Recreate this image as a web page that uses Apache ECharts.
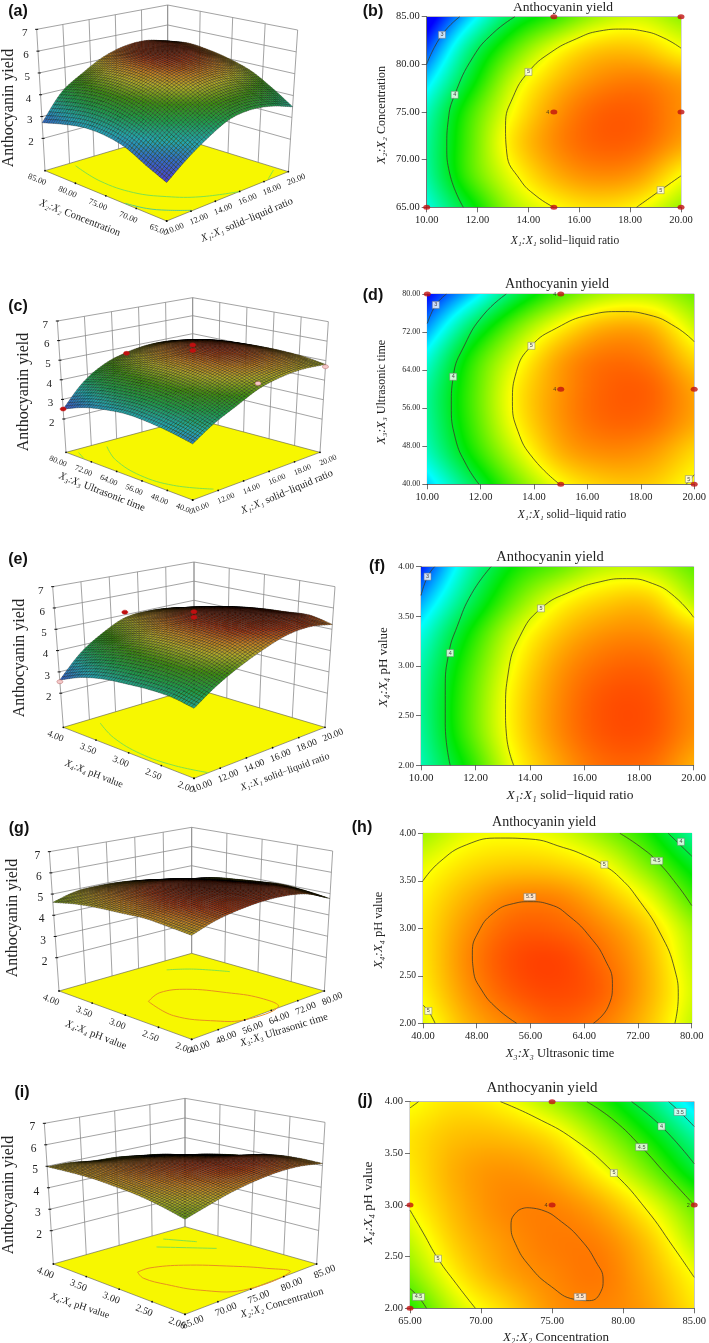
<!DOCTYPE html>
<html><head><meta charset="utf-8">
<style>html,body{margin:0;padding:0;background:#fff}#c{width:709px;height:1343px}</style>
<script src="https://cdn.jsdelivr.net/npm/echarts@6/dist/echarts.min.js"></script>
</head><body><div id="c"></div>
<script>
// ---------- contour-plot response values (rows: y axis low to high, columns: x axis low to high)
const heatB=[[3.45,4.10,4.72,5.00,5.12,5.02,4.68],[3.65,4.42,4.95,5.30,5.45,5.38,5.02],[3.68,4.45,5.09,5.45,5.62,5.60,5.37],[3.57,4.37,4.98,5.39,5.61,5.63,5.45],[3.22,4.07,4.80,5.22,5.45,5.51,5.38],[2.75,3.75,4.45,4.93,5.20,5.22,5.00],[2.30,3.20,3.95,4.35,4.72,4.85,4.65]];
const heatD=[[3.20,3.90,4.55,5.00,5.20,5.20,4.97],[3.55,4.25,4.85,5.30,5.45,5.40,5.15],[3.68,4.40,5.03,5.42,5.60,5.58,5.35],[3.68,4.42,5.05,5.42,5.62,5.62,5.35],[3.45,4.30,4.90,5.35,5.55,5.50,5.15],[3.00,3.87,4.55,5.02,5.30,5.28,4.85],[2.50,3.20,3.95,4.45,4.75,4.78,4.55]];
const heatF=[[3.60,4.25,4.95,5.35,5.58,5.58,5.32],[3.68,4.42,5.05,5.45,5.67,5.68,5.45],[3.70,4.43,5.05,5.45,5.67,5.68,5.45],[3.62,4.35,4.97,5.38,5.58,5.60,5.38],[3.42,4.17,4.82,5.22,5.42,5.44,5.22],[3.05,3.83,4.50,4.95,5.17,5.20,4.78],[2.60,3.55,4.20,4.50,4.78,4.78,4.50]];
const heatH=[[4.92,5.30,5.50,5.62,5.52,5.25,4.82],[5.05,5.42,5.65,5.72,5.62,5.32,4.88],[5.10,5.47,5.70,5.74,5.58,5.30,4.82],[5.10,5.42,5.62,5.62,5.47,5.20,4.72],[5.05,5.30,5.47,5.47,5.27,4.95,4.42],[4.93,5.12,5.20,5.17,5.00,4.60,4.10],[4.70,4.93,4.97,4.90,4.65,4.28,3.70]];
const heatJ=[[4.30,4.85,5.15,5.42,5.48,5.38,5.10],[4.62,5.08,5.35,5.48,5.53,5.32,4.98],[4.83,5.22,5.42,5.52,5.48,5.22,4.75],[5.00,5.30,5.47,5.48,5.32,4.98,4.50],[5.08,5.33,5.42,5.32,5.02,4.60,4.05],[5.10,5.25,5.25,5.10,4.72,4.25,3.68],[4.98,5.10,5.00,4.72,4.35,3.85,3.20]];
// ---------- contour lines
const contoursB=[[[10,80.03],[10.6,83.1],[11.3,85]],[[13.47,85],[12.6,83.25],[11.83,80.8],[11.1,76.8],[10.85,74.2],[10.79,71.4],[10.9,68.6],[11.44,65]],[[20,81.7],[19.3,82.8],[18.5,83.5],[17.7,83.7],[16.8,83.5],[15.9,82.7],[14.85,81.2],[14,79.2],[13.4,76.6],[13.1,73.6],[13.15,70.7],[13.67,67.9],[14.3,66.2],[15,65]],[[18.25,65],[19.2,66.8],[20,68.3]]];
const contoursD=[[[10,73.8],[10.32,77.7],[10.72,80]],[[12.96,80],[12.1,75.6],[11.4,69.3],[10.97,62.6],[10.9,56.7],[11.05,49.7],[11.47,44],[11.94,40]],[[20,70],[19.3,73.1],[18.3,75.6],[17.26,76.3],[16.08,75.6],[14.83,72.8],[13.9,69.1],[13.34,63.7],[13.19,57.4],[13.4,51.1],[13.96,45.5],[14.96,40]],[[19.7,40],[20,42]]];
const contoursF=[[[10,3.71],[10.24,3.9],[10.5,4]],[[12.57,4],[11.86,3.73],[11.33,3.4],[11.02,3.13],[10.89,2.76],[10.89,2.42],[11.07,2]],[[20,3.49],[19.3,3.7],[18.5,3.83],[17.54,3.88],[16.6,3.85],[15.5,3.75],[14.4,3.58],[13.63,3.3],[13.2,2.93],[13.1,2.56],[13.14,2.29],[13.4,2]]];
const contoursH=[[[76.5,4],[80,3.76]],[[69.3,4],[72.3,3.86],[74.8,3.71],[77.8,3.46],[80,3.24]],[[40,3.5],[42.5,3.7],[46.5,3.88],[51.5,3.95],[55.9,3.94],[60.9,3.85],[64,3.77],[67,3.66],[69.5,3.52],[71.8,3.33],[75.3,2.95],[77.5,2.56],[78,2.28],[77.5,2]],[[53.95,2],[50.97,2.16],[48.73,2.35],[47.5,2.56],[47.35,2.74],[48.24,2.96],[50.47,3.16],[53.45,3.26],[55.93,3.28],[58.9,3.25],[61.9,3.12],[64.86,2.91],[67.1,2.67],[68.2,2.42],[67.6,2.18],[65.36,2]],[[40,2.19],[40.8,2.13],[41.8,2]]];
const contoursJ=[[[83.2,4],[84,3.9],[85,3.76]],[[80.6,4],[82.7,3.76],[85,3.4]],[[77.45,4],[79.35,3.82],[81.3,3.56],[83,3.3],[85,3]],[[71.37,4],[73.8,3.85],[76.6,3.63],[79.35,3.31],[81.67,2.95],[83.5,2.6],[85,2.3]],[[65,2.95],[65.93,2.73],[66.97,2.48],[68.24,2.24],[69.6,2]],[[65.6,4],[65,3.94]],[[65,2.19],[65.6,2.11],[66.16,2]],[[73.22,2.974],[72.52,2.935],[72.11,2.806],[72.41,2.629],[73.45,2.403],[74.95,2.21],[76.57,2.087],[77.62,2.074],[78.43,2.161],[78.59,2.274],[78.08,2.452],[77.04,2.661],[75.65,2.839],[74.26,2.952],[73.22,2.974]]];
// ---------- contour labels
const labelsB=[[10.6,83.1,'3'],[11.1,76.8,'4'],[14,79.2,'5'],[19.2,66.8,'5']];
const labelsD=[[10.32,77.7,'3'],[10.97,62.6,'4'],[13.9,69.1,'5'],[19.8,41.1,'5']];
const labelsF=[[10.24,3.9,'3'],[11.07,3.13,'4'],[14.4,3.58,'5']];
const labelsH=[[78.4,3.91,'4'],[74.8,3.71,'4.5'],[67,3.67,'5'],[55.9,3.33,'5.5'],[40.8,2.13,'5']];
const labelsJ=[[84,3.9,'3.5'],[82.7,3.76,'4'],[81.3,3.56,'4.5'],[79.35,3.31,'5'],[66.97,2.48,'5'],[65.6,2.11,'4.5'],[76.97,2.11,'5.5']];
// ---------- design points
const pointsB=[[10,65],[15,65],[20,65],[15,75],[20,75],[15,85],[20,85]];
const pointsD=[[10,80],[15,80],[15,60],[20,60],[15,40],[20,40]];
const pointsJ=[[75,4],[65,3],[75,3],[85,3],[65,2]];
// ---------- surfaces (rows: left-edge axis low to high, columns: right-edge axis low to high)
const surfA=[[2.15,2.85,3.45,3.92,4.02,3.85,3.49],[2.55,3.35,4.00,4.51,4.62,4.45,4.10],[3.00,3.85,4.55,5.04,5.15,5.00,4.65],[3.20,4.15,4.85,5.34,5.45,5.33,4.98],[3.20,4.25,4.95,5.45,5.58,5.50,5.20],[3.00,4.15,4.85,5.34,5.52,5.52,5.32],[2.72,3.90,4.55,5.10,5.40,5.45,5.20]];
const surfC=[[2.95,3.60,4.10,4.60,4.85,4.92,4.81],[3.15,3.90,4.50,4.98,5.20,5.18,4.98],[3.28,4.10,4.75,5.22,5.42,5.35,5.05],[3.33,4.18,4.85,5.32,5.52,5.42,5.05],[3.20,4.10,4.80,5.25,5.45,5.35,5.00],[2.95,3.95,4.62,5.05,5.25,5.15,4.90],[2.51,3.65,4.35,4.71,4.88,4.85,4.63]];
const surfE=[[3.44,4.10,4.62,5.05,5.38,5.45,5.23],[3.60,4.35,4.95,5.38,5.60,5.62,5.45],[3.60,4.45,5.05,5.48,5.68,5.65,5.38],[3.51,4.42,5.05,5.48,5.65,5.58,5.30],[3.38,4.28,4.92,5.35,5.50,5.40,5.15],[3.10,4.02,4.65,5.10,5.25,5.15,4.90],[2.62,3.65,4.35,4.86,4.95,4.85,4.63]];
const surfG=[[4.97,5.30,5.48,5.56,5.52,5.30,4.77],[5.05,5.40,5.60,5.68,5.60,5.38,4.90],[5.12,5.45,5.65,5.70,5.60,5.32,4.98],[5.05,5.38,5.58,5.62,5.48,5.18,4.90],[4.98,5.28,5.45,5.48,5.30,5.02,4.78],[4.85,5.12,5.22,5.20,5.05,4.82,4.63],[4.61,4.90,4.95,4.90,4.75,4.55,4.29]];
const surfI=[[4.55,4.82,5.08,5.25,5.34,5.30,5.10],[4.78,5.05,5.30,5.45,5.50,5.40,5.12],[4.95,5.20,5.42,5.52,5.50,5.35,5.05],[5.03,5.28,5.42,5.45,5.32,5.08,4.79],[5.08,5.25,5.32,5.28,5.10,4.85,4.62],[5.05,5.15,5.12,5.02,4.85,4.62,4.40],[4.98,4.95,4.80,4.74,4.58,4.40,4.10]];
// ---------- lines printed on the floor (fractions along right edge, left edge)
const floorA=[{c:'#7fe24a',p:[[.2,.95],[.136,.684],[.156,.43],[.253,.253],[.387,.113],[.595,0]]},{c:'#7fe24a',p:[[.845,.01],[.965,.088]]},{c:'#55cc88',p:[[.005,.348],[.044,.209],[.11,.11],[.21,.007]]}];
const floorC=[{c:'#7fe24a',p:[[.055,.955],[.007,.867]]},{c:'#7fe24a',p:[[.256,.933],[.132,.742],[.055,.47],[.08,.233],[.197,.034]]}];
const floorE=[{c:'#7fe24a',p:[[.206,.924],[.1,.716],[.039,.451],[.05,.21],[.11,.001]]}];
const floorG=[{c:'#e89020',p:[[.244,.57],[.39,.63],[.533,.57],[.642,.378],[.70,.184],[.665,.012],[.407,0],[.287,.099],[.183,.32],[.244,.57]]},{c:'#7fe24a',p:[[.692,.88],[.803,.79],[.906,.618]]}];
const floorI=[{c:'#e89020',p:[[.26,.62],[.357,.623],[.517,.53],[.69,.323],[.784,.163],[.823,.025],[.463,.02],[.305,.19],[.238,.378],[.216,.532],[.26,.62]]},{c:'#7fe24a',p:[[.63,.846],[.84,.6]]},{c:'#7fe24a',p:[[.755,.92],[.85,.76]]}];
// ---------- points floating in the 3D views: right axis, left axis, yield, colour
const pts3C=[[20,60,3.07,'#f4c8c8'],[20,40,4.69,'#f4c8c8'],[10,80,2.51,'#c01010'],[15,80,4.66,'#c01010'],[15,60,5.96,'#c01010'],[15,60,5.68,'#c01010']];
const pts3E=[[10,4,2.54,'#f4c8c8'],[15,4,5.13,'#c01010'],[15,3,6.0,'#c01010'],[15,3,5.73,'#c01010']];
// ---------- tick labels
const ticksX1=[10,12,14,16,18,20];
const ticksX2=[65,70,75,80,85];
const ticksX3=[40,48,56,64,72,80];
const ticksX4=[2,2.5,3,3.5,4];
const ticksZ=[2,3,4,5,6,7];

const SERIF='"Liberation Serif","Times New Roman",serif';
const HEAT=[[2.5,[0,0,255]],[3.35,[0,255,255]],[4.2,[0,232,0]],[5.0,[255,255,0]],[5.85,[255,40,0]]];
const SURF=[[2.1,[80,60,210]],[2.8,[50,110,200]],[3.3,[35,165,175]],[3.9,[30,155,70]],[4.4,[60,140,15]],[4.9,[175,170,40]],[5.2,[195,130,35]],[5.5,[165,55,20]],[5.85,[70,15,5]]];
function ramp(st,v){
  if(v<=st[0][0])return st[0][1];
  for(let i=1;i<st.length;i++){ if(v<=st[i][0]){const t=(v-st[i-1][0])/(st[i][0]-st[i-1][0]);
    return st[i-1][1].map((c,k)=>c+(st[i][1][k]-c)*t);} }
  return st[st.length-1][1];
}
function cr(a,b,c,d,t){return .5*(2*b+(c-a)*t+(2*a-5*b+4*c-d)*t*t+(3*b-a-3*c+d)*t*t*t);}
function at1(a,i){const n=a.length;if(i<0)return 2*a[0]-a[1];if(i>=n)return 2*a[n-1]-a[n-2];return a[i];}
function line1(a,f){const n=a.length-1;let p=f*n,i=Math.min(Math.floor(p),n-1);return cr(at1(a,i-1),a[i],a[i+1],at1(a,i+2),p-i);}
function sample(m,u,v){const col=m.map(r=>line1(r,u));return line1(col,v);}
function heatCanvas(m){
  const W=300,H=210,cv=document.createElement('canvas');cv.width=W;cv.height=H;
  const ctx=cv.getContext('2d'),img=ctx.createImageData(W,H);
  for(let y=0;y<H;y++)for(let x=0;x<W;x++){
    const c=ramp(HEAT,sample(m,x/(W-1),1-y/(H-1))),k=(y*W+x)*4;
    img.data[k]=c[0];img.data[k+1]=c[1];img.data[k+2]=c[2];img.data[k+3]=255;}
  ctx.putImageData(img,0,0);return cv;
}
function rich(sym,rest,size){return {text:'{i|'+sym+'}{r| '+rest+'}',rich:{
  i:{fontFamily:SERIF,fontStyle:'italic',fontSize:size,fill:'#222'},
  r:{fontFamily:SERIF,fontSize:size,fill:'#222'}},align:'center',verticalAlign:'middle'};}
const NAMES={x1:['X₁:X₁','solid−liquid ratio'],x2:['X₂:X₂','Concentration'],x3:['X₃:X₃','Ultrasonic time'],x4:['X₄:X₄','pH value']};

// ---------- panels
const PANELS2D=[
 {heat:heatB,con:contoursB,lab:labelsB,pts:pointsB,notes:[[15,75,'4','left']],box:[426.7,16.7,681,207.3],xr:[10,20,2],yr:[65,85,5],fx:10.5,fy:10.5,xn:'x1',yn:'x2',xp:[565,241,11.5],yp:[382,115,12],t:[563,7.5,13.5]},
 {heat:heatD,con:contoursD,lab:labelsD,pts:pointsD,notes:[[15,60,'4','left'],[15,80,'4','left']],box:[427.3,294,695,484.3],xr:[10,20,2],yr:[40,80,8],fx:10.5,fy:8,xn:'x1',yn:'x3',xp:[572,515,11.5],yp:[382,392,12],t:[557,284,14]},
 {heat:heatF,con:contoursF,lab:labelsF,pts:[],notes:[],box:[421,566.7,702.7,765.3],xr:[10,20,2],yr:[2,4,.5],fx:11,fy:9,xn:'x1',yn:'x4',xp:[570,795,13.5],yp:[384,667,13],t:[550,557,14.5]},
 {heat:heatH,con:contoursH,lab:labelsH,pts:[],notes:[],box:[423,833.3,691.7,1023.3],xr:[40,80,8],yr:[2,4,.5],fx:10.5,fy:9.5,xn:'x3',yn:'x4',xp:[560,1054,12.5],yp:[379,930,12.5],t:[544,822,14]},
 {heat:heatJ,con:contoursJ,lab:labelsJ,pts:pointsJ,notes:[[75,3,'4','left'],[85,3,'2','left']],box:[410,1101.7,698,1308.3],xr:[65,85,5],yr:[2,4,.5],fx:10.5,fy:10.5,xn:'x2',yn:'x4',xp:[556,1338,13],yp:[368,1203,13.5],t:[542,1088,15]}
];
const PANELS3D=[
 {surf:surfA,yo:0,z0:.52,L:[135,512],F:[500,663],R:[865,515],B:[503,403],LT:[110,88],RT:[893,90],BT:[503,15],ut:ticksX1,vt:ticksX2,floor:floorA,pts:[],lf:8.5,zf:11,un:'x1',vn:'x2',up:[247,220,10.5,.40],vp:[80,218,10.5,-.37],zn:[9,108,16]},
 {surf:surfC,yo:265,z0:.30,L:[198,562],F:[578,705],R:[960,562],B:[578,460],LT:[172,168],RT:[985,170],BT:[578,98],ut:ticksX1,vt:ticksX3,floor:floorC,pts:pts3C,lf:8,zf:11,un:'x1',vn:'x3',up:[287,492,10.5,.40],vp:[102,492,10.5,-.37],zn:[24,392,16]},
 {surf:surfE,yo:530,z0:.40,L:[190,592],F:[582,745],R:[975,592],B:[582,475],LT:[158,170],RT:[1005,170],BT:[582,96],ut:ticksX1,vt:ticksX4,floor:floorE,pts:pts3E,lf:9.5,zf:11,un:'x1',vn:'x4',up:[285,772,10,.35],vp:[94,774,10,-.37],zn:[20,658,16]},
 {surf:surfG,yo:800,z0:.43,L:[177,573],F:[575,718],R:[973,573],B:[575,460],LT:[148,155],RT:[998,153],BT:[575,82],ut:ticksX3,vt:ticksX4,floor:floorG,pts:[],lf:9.5,zf:11.5,un:'x3',vn:'x4',up:[284,1030,10.5,.30],vp:[96,1035,10.5,-.37],zn:[13,918,16]},
 {surf:surfI,yo:1070,z0:.45,L:[160,582],F:[555,733],R:[950,582],B:[555,470],LT:[133,160],RT:[975,157],BT:[555,85],ut:ticksX2,vt:ticksX4,floor:floorI,pts:[],lf:10,zf:11.5,un:'x2',vn:'x4',up:[282,1303,10.5,.28],vp:[80,1306,10,-.33],zn:[9,1195,16]}
];
const LETTERS=[['(a)',18,12],['(b)',373,12],['(c)',18,307],['(d)',373,296],['(e)',18,560],['(f)',377,567],['(g)',19,829],['(h)',362,828],['(i)',22,1093],['(j)',365,1101]];

const grid=[],xAxis=[],yAxis=[],series=[],gfx=[];
function text(t,x,y,size,rot){return {type:'text',x,y,rotation:rot||0,silent:true,style:{text:t,fontFamily:SERIF,fontSize:size,fill:'#222',align:'center',verticalAlign:'middle'}};}
function richText(n,p,rot){return {type:'text',x:p[0],y:p[1],rotation:rot,silent:true,style:rich(NAMES[n][0],NAMES[n][1],p[2])};}

PANELS2D.forEach((p,i)=>{
  const b=p.box;
  grid.push({left:b[0],top:b[1],width:b[2]-b[0],height:b[3]-b[1],show:true,borderColor:'#777',borderWidth:.6,backgroundColor:'transparent'});
  const ax=(r,fs)=>({type:'value',gridIndex:i,min:r[0],max:r[1],interval:r[2],splitLine:{show:false},
    axisLine:{show:true,onZero:false,lineStyle:{color:'#555',width:.7}},axisTick:{show:true,length:5,lineStyle:{color:'#333',width:.7}},
    axisLabel:{fontFamily:SERIF,fontSize:fs,color:'#222',margin:7,formatter:v=>v.toFixed(2),hideOverlap:false}});
  xAxis.push(ax(p.xr,p.fx));yAxis.push(ax(p.yr,p.fy));
  const cv=heatCanvas(p.heat);
  series.push({type:'custom',xAxisIndex:i,yAxisIndex:i,silent:true,z:1,clip:false,
    data:[[p.xr[0],p.yr[0],p.xr[1],p.yr[1]]],
    renderItem:(pr,api)=>{const a=api.coord([api.value(0),api.value(3)]),c=api.coord([api.value(2),api.value(1)]);
      return {type:'image',style:{image:cv,x:a[0],y:a[1],width:c[0]-a[0],height:c[1]-a[1]}};}});
  p.con.forEach(c=>series.push({type:'line',xAxisIndex:i,yAxisIndex:i,data:c,smooth:.5,symbol:'none',silent:true,z:3,lineStyle:{color:'#3a3a2a',width:.8}}));
  series.push({type:'scatter',xAxisIndex:i,yAxisIndex:i,data:p.lab,silent:true,z:4,clip:false,symbol:'rect',
    symbolSize:d=>[String(d[2]).length>1?12:7,7],itemStyle:{color:'#fff',borderColor:'#777',borderWidth:.6},
    label:{show:true,position:'inside',formatter:o=>o.value[2],fontSize:5.5,color:'#222',fontFamily:'"Liberation Sans",sans-serif'}});
  if(p.pts.length)series.push({type:'scatter',xAxisIndex:i,yAxisIndex:i,data:p.pts,silent:true,z:5,clip:false,symbol:'circle',symbolSize:[7,5],itemStyle:{color:'#c01010'}});
  if(p.notes.length)series.push({type:'scatter',xAxisIndex:i,yAxisIndex:i,data:p.notes,silent:true,z:5,clip:false,symbolSize:1,itemStyle:{color:'rgba(0,0,0,0)'},
    label:{show:true,position:'left',distance:4,formatter:o=>o.value[2],fontSize:5.5,color:'#222'}});
  gfx.push(text('Anthocyanin yield',p.t[0],p.t[1],p.t[2]));
  gfx.push(richText(p.xn,p.xp,0));
  gfx.push(richText(p.yn,p.yp,Math.PI/2));
});

// hidden page-sized cartesian frame that carries the 3D views
const PG=PANELS2D.length;
grid.push({left:0,top:0,width:709,height:1343,show:false});
xAxis.push({type:'value',gridIndex:PG,min:0,max:709,show:false});
yAxis.push({type:'value',gridIndex:PG,min:0,max:1343,inverse:true,show:false});

function geom(p){const f=q=>[q[0]/3,q[1]/3+p.yo];
  const g={L:f(p.L),F:f(p.F),R:f(p.R),B:f(p.B),LT:f(p.LT),RT:f(p.RT),BT:f(p.BT)};
  g.FT=[g.F[0],g.F[1]-1.08*(g.L[1]-g.LT[1])];return g;}
function project(g,z0,u,v,z){
  const w=(z-z0)/(7-z0),m=(a,b,c,d,k)=>(1-u)*(1-v)*a[k]+u*(1-v)*b[k]+(1-u)*v*c[k]+u*v*d[k];
  const fx=m(g.F,g.R,g.L,g.B,0),fy=m(g.F,g.R,g.L,g.B,1),tx=m(g.FT,g.RT,g.LT,g.BT,0),ty=m(g.FT,g.RT,g.LT,g.BT,1);
  return [fx+(tx-fx)*w,fy+(ty-fy)*w];
}
const SUB=9;
PANELS3D.forEach(p=>{
  const g=geom(p),z0=p.z0,P=(u,v,z)=>project(g,z0,u,v,z);
  const ur=[p.ut[0],p.ut[p.ut.length-1]],vr=[p.vt[0],p.vt[p.vt.length-1]];
  const nu=x=>(x-ur[0])/(ur[1]-ur[0]),nv=x=>(x-vr[0])/(vr[1]-vr[0]);
  const base={type:'custom',coordinateSystem:'cartesian2d',xAxisIndex:PG,yAxisIndex:PG,silent:true,clip:false};
  series.push(Object.assign({},base,{z:2,data:[[0]],renderItem:(pr,api)=>{
    const C=q=>api.coord(q),kids=[];
    const seg=(a,b,col,lw)=>{const A=C(a),B=C(b);kids.push({type:'line',shape:{x1:A[0],y1:A[1],x2:B[0],y2:B[1]},style:{stroke:col,lineWidth:lw}});};
    const GR='#8c8c8c';
    ticksZ.forEach(z=>{seg(P(0,1,z),P(1,1,z),GR,.8);seg(P(1,1,z),P(1,0,z),GR,.8);});
    p.ut.forEach(t=>{const u=nu(t);seg(P(u,1,z0),P(u,1,7),GR,.8);});
    p.vt.forEach(t=>{const v=nv(t);seg(P(1,v,z0),P(1,v,7),GR,.8);});
    const fl=[P(0,0,z0),P(1,0,z0),P(1,1,z0),P(0,1,z0)].map(C);
    kids.push({type:'polygon',shape:{points:fl},style:{fill:'#f7f700',stroke:'#555',lineWidth:.6}});
    p.floor.forEach(f=>kids.push({type:'polyline',shape:{points:f.p.map(q=>C(P(q[0],q[1],z0))),smooth:.4},style:{fill:null,stroke:f.c,lineWidth:1}}));
    ticksZ.forEach(z=>{const a=C(P(0,1,z));
      kids.push({type:'line',shape:{x1:a[0]-1.5,y1:a[1],x2:a[0]+1.5,y2:a[1]},style:{stroke:'#111',lineWidth:1}});
      kids.push(text(String(z),a[0]-12,a[1]+4,p.zf));});
    p.vt.forEach(t=>{const q=C(P(0,nv(t),z0));
      kids.push({type:'circle',shape:{cx:q[0],cy:q[1],r:.9},style:{fill:'#111'}});
      kids.push(text(t.toFixed(2),q[0]-8,q[1]+9,p.lf,-.38));});
    p.ut.forEach(t=>{const q=C(P(nu(t),0,z0));
      kids.push({type:'circle',shape:{cx:q[0],cy:q[1],r:.9},style:{fill:'#111'}});
      kids.push(text(t.toFixed(2),q[0]+8,q[1]+8,p.lf,.38));});
    return {type:'group',children:kids};
  }}));
  const n=p.surf.length-1,cells=[];
  for(let j=n-1;j>=0;j--)for(let i=n-1;i>=0;i--)cells.push([i,j]);
  series.push(Object.assign({},base,{z:3,data:cells,renderItem:(pr,api)=>{
    const i=api.value(0),j=api.value(1),kids=[];
    for(let b=SUB-1;b>=0;b--)for(let a=SUB-1;a>=0;a--){
      const u0=(i+a/SUB)/n,u1=(i+(a+1)/SUB)/n,v0=(j+b/SUB)/n,v1=(j+(b+1)/SUB)/n;
      const pt=(u,v)=>api.coord(P(u,v,sample(p.surf,u,v)));
      const c=ramp(SURF,sample(p.surf,(u0+u1)/2,(v0+v1)/2));
      kids.push({type:'polygon',shape:{points:[pt(u0,v0),pt(u1,v0),pt(u1,v1),pt(u0,v1)]},
        style:{fill:'rgb('+c.map(Math.round).join(',')+')',stroke:'rgba(0,0,0,.55)',lineWidth:.5}});
    }
    return {type:'group',children:kids};
  }}));
  if(p.pts.length)series.push(Object.assign({},base,{z:4,data:p.pts,renderItem:(pr,api)=>{
    const q=api.coord(P(nu(api.value(0)),nv(api.value(1)),api.value(2))),col=p.pts[pr.dataIndex][3];
    return {type:'ellipse',shape:{cx:q[0],cy:q[1],rx:3,ry:2},style:{fill:col,stroke:col==='#c01010'?'#c01010':'#b06060',lineWidth:.5}};
  }}));
  gfx.push(richText(p.un,p.up,p.up[3]));
  gfx.push(richText(p.vn,p.vp,p.vp[3]));
  gfx.push(text('Anthocyanin yield',p.zn[0],p.zn[1],p.zn[2],Math.PI/2));
});
LETTERS.forEach(l=>gfx.push({type:'text',x:l[1],y:l[2],silent:true,style:{text:l[0],fontFamily:'"Liberation Sans",Arial,sans-serif',fontWeight:'bold',fontSize:16,fill:'#111',align:'center',verticalAlign:'middle'}}));

const chart=echarts.init(document.getElementById('c'),null,{renderer:'canvas'});
chart.setOption({animation:false,backgroundColor:'#fff',grid,xAxis,yAxis,series,graphic:{elements:gfx}});
</script></body></html>
